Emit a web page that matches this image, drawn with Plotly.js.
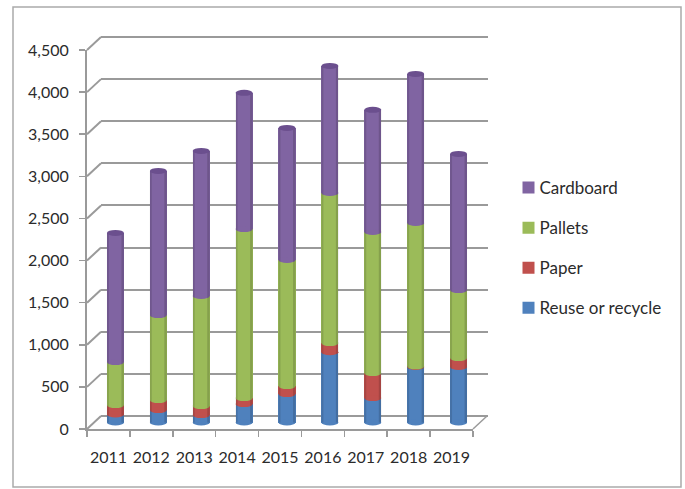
<!DOCTYPE html>
<html><head><meta charset="utf-8">
<script src="https://cdn.plot.ly/plotly-3.0.1.min.js"></script>
<style>html,body{margin:0;padding:0;background:#fff}</style></head>
<body><div id="chart" style="width:685px;height:489px"></div>
<script>
const years = ['2011','2012','2013','2014','2015','2016','2017','2018','2019'];
const reuse = [95,148,88,219,338,835,290,659,659];
const paper = [112,119,107,71,95,108,297,8,106];
const pallets = [511,1008,1307,2007,1497,1782,1675,1702,808];
const cardboard = [1533,1712,1722,1617,1568,1509,1450,1770,1616];
const seriesNames = ['Reuse or recycle','Paper','Pallets','Cardboard'];
const colors = ['#4F81BD','#C0504D','#9BBB59','#8064A2'];
const yTicks = [0,500,1000,1500,2000,2500,3000,3500,4000,4500];

const W=685,H=489, font='Lato, Carlito, sans-serif', textCol='#2b2b2b', gridCol='#9a9a9a';
const fx=v=>v/W, fy=v=>1-v/H;
const L=87,R=473,B=429,T=50,depthX=14,depthY=13;
const pxPer=(B-T)/4500, catPx=(R-L)/9;
const series=[reuse,paper,pallets,cardboard];
const totals=years.map((_,i)=>series.reduce((a,s)=>a+s[i],0));

const traces=series.map((s,k)=>({type:'bar',name:seriesNames[k],x:years,y:s,xaxis:'x3',yaxis:'y3',
  legendgroup:seriesNames[k],legendrank:4-k,marker:{color:colors[k],line:{width:0}},width:0.4,hoverinfo:'skip'}));
traces.push({type:'scatter',mode:'markers',x:years,y:totals,xaxis:'x',yaxis:'y',marker:{size:1,opacity:0},showlegend:false,hoverinfo:'skip'});
traces.push({type:'scatter',mode:'markers',x:years,y:totals,xaxis:'x2',yaxis:'y2',marker:{size:1,opacity:0},showlegend:false,hoverinfo:'skip'});

const shapes=[];
shapes.push({type:'rect',xref:'paper',yref:'paper',x0:fx(13),x1:fx(681),y0:fy(7),y1:fy(487),line:{color:'#aaaaaa',width:1.5},layer:'below'});
// oblique wall links from the front axis to the back wall
const link=(xa,v,w)=>shapes.push({type:'line',xref:'paper',yref:'paper',
  x0:fx(xa),x1:fx(xa+depthX),y0:fy(B-v*pxPer),y1:fy(B-v*pxPer-depthY),line:{color:gridCol,width:w},layer:'above'});
yTicks.forEach(v=>link(L,v,2));
link(R,0,1.5);
// cylinder caps and curved segment joints, sized in axis units
const hw=8.5,hh=3;
const dx=hw/catPx, dy=hh/pxPer;
years.forEach((yr,i)=>{
  const ell=(val,col)=>shapes.push({type:'circle',xref:'x3',yref:'y3',x0:i-dx,x1:i+dx,y0:val-dy,y1:val+dy,fillcolor:col,line:{width:0},layer:'above'});
  const edge=(a,b,op)=>shapes.push({type:'rect',xref:'x3',yref:'y3',x0:i+a/catPx,x1:i+b/catPx,y0:0,y1:totals[i],fillcolor:'rgba(0,0,0,'+op+')',line:{width:0},layer:'above'});
  ell(0,colors[0]);
  let c=0;
  [[0,1],[1,2],[2,3]].forEach(([lo,up])=>{c+=series[lo][i];ell(c,colors[up]);});
  edge(-hw,-hw+2,0.12);
  edge(hw-2.5,hw,0.14);
  ell(totals[i],'#6B4F8E');
});

const bottomPad=18; // extra room below the floor so the round bases are not clipped
const wallPad=3;    // extra room so the first and last back-wall gridlines are drawn
const layout={width:W,height:H,margin:{l:0,r:0,t:0,b:0},paper_bgcolor:'#fff',plot_bgcolor:'rgba(0,0,0,0)',
  barmode:'stack',showlegend:true,font:{family:font,size:16,color:textCol},
  xaxis:{type:'category',categoryorder:'array',categoryarray:years,domain:[fx(L),fx(R)],range:[-0.5,8.5],anchor:'y',
    tickson:'boundaries',ticks:'outside',ticklen:6,tickcolor:gridCol,tickwidth:1.5,showgrid:false,showline:true,linecolor:gridCol,linewidth:2,
    tickangle:0,tickfont:{family:font,size:16,color:textCol},ticklabelstandoff:13,zeroline:false},
  yaxis:{domain:[fy(B),fy(T)],range:[0,4500],anchor:'x',tickvals:yTicks,ticktext:yTicks.map(v=>v.toLocaleString('en-US')),
    ticks:'outside',ticklen:6,tickcolor:gridCol,tickwidth:1.5,showgrid:false,showline:true,linecolor:gridCol,linewidth:2,zeroline:false,
    tickfont:{family:font,size:16,color:textCol},ticklabelstandoff:7},
  xaxis2:{type:'category',categoryorder:'array',categoryarray:years,domain:[fx(L+depthX),fx(R+depthX+1)],range:[-0.5,8.5],anchor:'y2',
    showticklabels:false,ticks:'',showgrid:false,showline:false,zeroline:false},
  yaxis2:{domain:[fy(B-depthY+wallPad),fy(T-depthY-wallPad)],range:[-wallPad/pxPer,4500+wallPad/pxPer],anchor:'x2',tickvals:yTicks,showticklabels:false,ticks:'',
    showgrid:true,gridcolor:gridCol,gridwidth:2,showline:false,zeroline:false},
  xaxis3:{type:'category',categoryorder:'array',categoryarray:years,domain:[fx(L+7),fx(R+7)],range:[-0.5,8.5],anchor:'y3',
    showticklabels:false,ticks:'',showgrid:false,showline:false,zeroline:false},
  yaxis3:{domain:[fy(B-6.5+bottomPad),fy(T-6.5)],range:[-bottomPad/pxPer,4500],anchor:'x3',showticklabels:false,ticks:'',
    showgrid:false,showline:false,zeroline:false},
  legend:{x:fx(508.5),xanchor:'left',y:fy(170),yanchor:'top',bgcolor:'rgba(0,0,0,0)',borderwidth:0,
    traceorder:'grouped',tracegroupgap:15,itemclick:false,itemdoubleclick:false,
    font:{family:font,size:17,color:textCol}},
  shapes:shapes};
Plotly.newPlot('chart',traces,layout,{displayModeBar:false,staticPlot:true}).then(()=>{
  document.querySelectorAll('.legendtext').forEach(t=>t.setAttribute('x','31'));
});
</script></body></html>
